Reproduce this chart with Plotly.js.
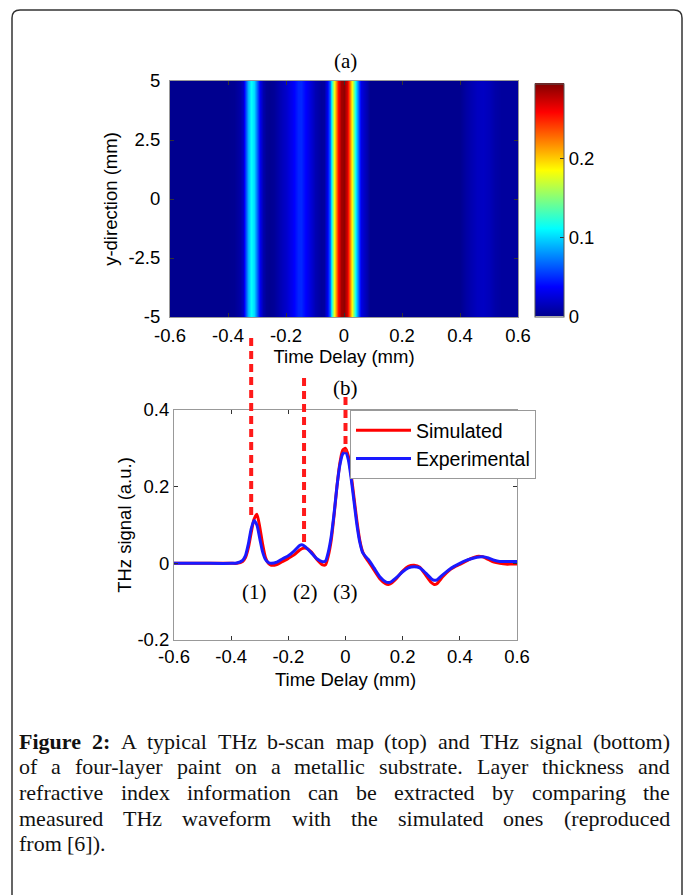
<!DOCTYPE html>
<html><head><meta charset="utf-8">
<script src="https://cdn.plot.ly/plotly-3.0.1.min.js"></script>
<style>html,body{margin:0;padding:0;background:#fff}#chart{width:683px;height:895px}</style>
</head><body><div id="chart"></div>
<script>
// ---- data ----
const delay = [-0.6,-0.5,-0.4,-0.38,-0.36,-0.35,-0.34,-0.33,-0.32,-0.31,-0.30,-0.29,-0.28,-0.27,-0.26,-0.24,-0.22,-0.2,-0.18,-0.16,-0.15,-0.14,-0.12,-0.1,-0.08,-0.07,-0.06,-0.05,-0.04,-0.03,-0.02,-0.01,0,0.01,0.02,0.03,0.04,0.05,0.06,0.07,0.08,0.1,0.12,0.14,0.15,0.16,0.18,0.2,0.22,0.24,0.26,0.28,0.3,0.31,0.32,0.34,0.36,0.38,0.4,0.42,0.44,0.46,0.48,0.5,0.52,0.54,0.56,0.58,0.6];
const experimental = [0,0,0,0.001,0.008,0.02,0.05,0.09,0.112,0.1,0.065,0.03,0.01,0.002,0,0.003,0.012,0.02,0.032,0.047,0.048,0.043,0.028,0.012,0.004,0.006,0.03,0.07,0.13,0.2,0.255,0.285,0.29,0.27,0.22,0.16,0.1,0.055,0.028,0.018,0.01,-0.012,-0.035,-0.048,-0.05,-0.048,-0.036,-0.022,-0.012,-0.009,-0.012,-0.025,-0.04,-0.044,-0.043,-0.03,-0.018,-0.008,0,0.007,0.012,0.016,0.017,0.014,0.008,0.005,0.005,0.005,0.005];
const simulated = [0,0,0,0,0.005,0.015,0.04,0.08,0.115,0.128,0.095,0.05,0.015,0,-0.005,-0.003,0.005,0.013,0.022,0.035,0.039,0.04,0.03,0.01,-0.004,-0.004,0.02,0.06,0.125,0.2,0.26,0.295,0.3,0.28,0.23,0.17,0.11,0.06,0.03,0.015,0.005,-0.018,-0.04,-0.053,-0.055,-0.052,-0.038,-0.02,-0.008,-0.005,-0.01,-0.03,-0.05,-0.055,-0.053,-0.035,-0.02,-0.01,-0.003,0.005,0.013,0.018,0.017,0.01,0.003,0,-0.002,-0.002,-0.002];
const yScan = [-5,-4,-3,-2,-1,0,1,2,3,4,5];
const seriesNames = ['Simulated','Experimental'];
const xTickVals = [-0.6,-0.4,-0.2,0,0.2,0.4,0.6];
const xTickText = ['-0.6','-0.4','-0.2','0','0.2','0.4','0.6'];
const yTickValsA = [-5,-2.5,0,2.5,5];
const yTickTextA = ['-5','-2.5','0','2.5','5'];
const yTickValsB = [-0.2,0,0.2,0.4];
const yTickTextB = ['-0.2','0','0.2','0.4'];
const cbTickVals = [0,0.1,0.2];
const cbTickText = ['0','0.1','0.2'];
const markerX = [-0.33,-0.145,0];
const markerStop = [0.125,0.05,0.29];
const labelX = [-0.32,-0.14,0];
const labelText = ['(1)','(2)','(3)'];
const captionLines = [
  [['Figure',1],['2:',1],['A',0],['typical',0],['THz',0],['b-scan',0],['map',0],['(top)',0],['and',0],['THz',0],['signal',0],['(bottom)',0]],
  'of a four-layer paint on a metallic substrate. Layer thickness and',
  'refractive index information can be extracted by comparing the',
  'measured THz waveform with the simulated ones (reproduced',
  'from [6]).'
];

// ---- layout helpers ----
const W = 683, H = 895;
const px = v => v / W;
const py = v => 1 - v / H;
const SANS = 'Liberation Sans, Arial, sans-serif';
const SERIF = 'Liberation Serif, Times New Roman, serif';
const TF = {family: SANS, size: 18.5, color: '#000'};

const domA = {x: [px(170), px(518)], y: [py(317), py(81)]};
const domB = {x: [px(174), px(517)], y: [py(640), py(410)]};
const rangeB = [-0.2, 0.4];
const yBtoPaper = v => domB.y[0] + (v - rangeB[0]) / (rangeB[1] - rangeB[0]) * (domB.y[1] - domB.y[0]);

const jet = [[0,'#00008F'],[0.125,'#0000FF'],[0.375,'#00FFFF'],[0.625,'#FFFF00'],[0.875,'#FF0000'],[1,'#800000']];

const traces = [
  {type: 'heatmap', x: delay, y: yScan, z: yScan.map(() => experimental),
   xaxis: 'x', yaxis: 'y', colorscale: jet, zmin: 0, zmax: 0.295, zsmooth: 'best',
   showscale: true, hoverinfo: 'skip',
   colorbar: {x: px(535), xanchor: 'left', xpad: 0, ypad: 0, y: py(200), yanchor: 'middle',
     thickness: 29, thicknessmode: 'pixels', len: 233, lenmode: 'pixels',
     tickvals: cbTickVals, ticktext: cbTickText, ticks: 'inside', ticklen: 4, tickcolor: '#333',
     tickfont: TF, outlinecolor: '#555', outlinewidth: 1}},
  {type: 'scatter', mode: 'lines', name: seriesNames[0], x: delay, y: simulated,
   xaxis: 'x2', yaxis: 'y2', line: {color: '#FF0000', width: 3, shape: 'spline', smoothing: 0.6}},
  {type: 'scatter', mode: 'lines', name: seriesNames[1], x: delay, y: experimental,
   xaxis: 'x2', yaxis: 'y2', line: {color: '#1A1AFF', width: 3, shape: 'spline', smoothing: 0.6}}
];

const axCommon = {showgrid: false, zeroline: false, showline: true, linecolor: '#999', linewidth: 1,
  mirror: 'ticks', ticks: 'inside', ticklen: 4, tickcolor: '#333', tickfont: TF, automargin: false};

const shapes = [];
const tops = [338, 378, 397];
markerX.forEach((xv, i) => {
  shapes.push({type: 'line', xref: 'x2', yref: 'paper', x0: xv, x1: xv,
    y0: py(tops[i]), y1: yBtoPaper(markerStop[i]),
    line: {color: '#FF1A1A', width: 4, dash: '8px,5px'}, layer: 'above'});
});
// rounded frame
shapes.push({type: 'path', xref: 'paper', yref: 'paper',
  path: `M ${px(12)},${py(905)} L ${px(12)},${py(18)} Q ${px(12)},${py(10)} ${px(20)},${py(10)} L ${px(674)},${py(10)} Q ${px(682)},${py(10)} ${px(682)},${py(18)} L ${px(682)},${py(905)}`,
  line: {color: '#333', width: 1.5}});

const annotations = [
  {xref: 'paper', yref: 'paper', x: px(345), y: py(61), text: '(a)', showarrow: false,
   font: {family: SERIF, size: 21, color: '#000'}, xanchor: 'center', yanchor: 'middle'},
  {xref: 'paper', yref: 'paper', x: px(345), y: py(388), text: '(b)', showarrow: false,
   font: {family: SERIF, size: 21, color: '#000'}, xanchor: 'center', yanchor: 'middle'}
];
labelX.forEach((xv, i) => {
  annotations.push({xref: 'x2', yref: 'y2', x: xv, y: -0.075, text: labelText[i], showarrow: false,
    font: {family: SERIF, size: 21, color: '#000'}, xanchor: 'center', yanchor: 'middle'});
});

// justified caption
const cv = document.createElement('canvas').getContext('2d');
const CAP = 22;
const measure = (w, b) => { cv.font = (b ? 'bold ' : '') + CAP + 'px "Liberation Serif"'; return cv.measureText(w).width; };
const capLeft = 19, capRight = 670, capTop = 741, capStep = 25.7;
captionLines.forEach((line, li) => {
  const words = Array.isArray(line) ? line : line.split(' ').map(w => [w, 0]);
  const widths = words.map(([w, b]) => measure(w, b));
  const total = widths.reduce((a, b) => a + b, 0);
  const last = li === captionLines.length - 1;
  const gap = last ? measure(' ', 0) : (capRight - capLeft - total) / (words.length - 1);
  let xpos = capLeft;
  words.forEach(([w, b], wi) => {
    annotations.push({xref: 'paper', yref: 'paper', x: px(xpos - 2), y: py(capTop + li * capStep),
      text: b ? '<b>' + w + '</b>' : w, showarrow: false, xanchor: 'left', yanchor: 'middle',
      font: {family: SERIF, size: CAP, color: '#111'}});
    xpos += widths[wi] + gap;
  });
});

const layout = {
  width: W, height: H, margin: {l: 0, r: 0, t: 0, b: 0},
  paper_bgcolor: '#fff', plot_bgcolor: '#fff', showlegend: true,
  xaxis: Object.assign({}, axCommon, {domain: domA.x, anchor: 'y', range: [-0.6, 0.6],
    tickvals: xTickVals, ticktext: xTickText, ticklabelstandoff: 2,
    title: {text: 'Time Delay (mm)', font: TF, standoff: 4}}),
  yaxis: Object.assign({}, axCommon, {domain: domA.y, anchor: 'x', range: [-5, 5],
    tickvals: yTickValsA, ticktext: yTickTextA, ticklabelstandoff: 5,
    title: {text: 'y-direction (mm)', font: TF, standoff: 5}}),
  xaxis2: Object.assign({}, axCommon, {domain: domB.x, anchor: 'y2', range: [-0.6, 0.6],
    tickvals: xTickVals, ticktext: xTickText,
    title: {text: 'Time Delay (mm)', font: TF, standoff: 6}}),
  yaxis2: Object.assign({}, axCommon, {domain: domB.y, anchor: 'x2', range: rangeB,
    tickvals: yTickValsB, ticktext: yTickTextB,
    title: {text: 'THz signal (a.u.)', font: TF, standoff: 0}}),
  legend: {x: px(350), y: py(410), xanchor: 'left', yanchor: 'top', bgcolor: '#fff',
    bordercolor: '#999', borderwidth: 1, font: {family: SANS, size: 19.5, color: '#000'},
    tracegroupgap: 0, itemwidth: 55},
  shapes: shapes, annotations: annotations
};

Plotly.newPlot('chart', traces, layout, {displayModeBar: false, staticPlot: true});
</script></body></html>
